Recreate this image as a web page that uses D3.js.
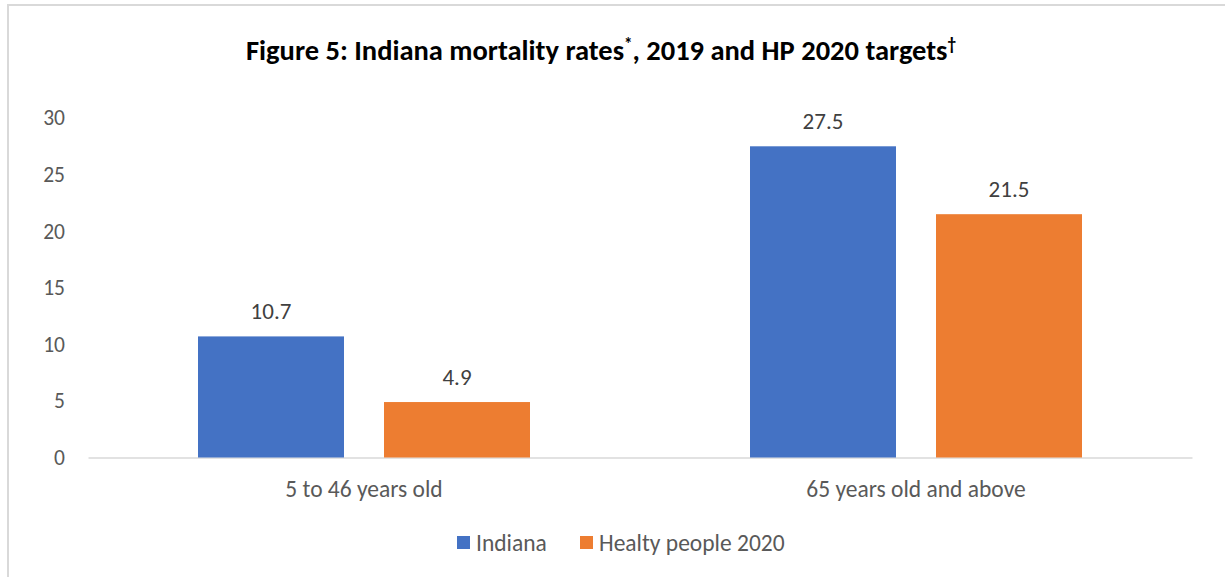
<!DOCTYPE html>
<html>
<head>
<meta charset="utf-8">
<script src="https://cdn.jsdelivr.net/npm/d3@7"></script>
<style>
  html, body { margin: 0; padding: 0; background: #fff; }
  svg { display: block; }
  text { font-family: Carlito, Lato, "Open Sans", sans-serif; }
</style>
</head>
<body>
<svg id="chart" width="1225" height="577"></svg>
<script>
// Mortality rates by age group, Indiana 2019 vs. Healthy People 2020 targets
const categories = ["5 to 46 years old", "65 years old and above"];
const seriesNames = ["Indiana", "Healty people 2020"];
const indianaValues = [10.7, 27.5];
const hp2020Values = [4.9, 21.5];
const yTicks = [0, 5, 10, 15, 20, 25, 30];
const colors = ["#4472C4", "#ED7D31"];

const FONT = 'Carlito, Lato, "Open Sans", sans-serif';
const svg = d3.select("#chart");
const W = 1225, H = 577;
const margin = { left: 88, right: 33, top: 118, bottom: 577 - 457.5 };

// chart frame
svg.append("path")
  .attr("d", `M8,${H} L8,5 L${W},5`)
  .attr("fill", "none").attr("stroke", "#d9d9d9").attr("stroke-width", 2);

// title
const title = svg.append("text")
  .attr("x", 601).attr("y", 60)
  .attr("text-anchor", "middle")
  .attr("font-weight", "bold").attr("font-size", 28.5).attr("fill", "#000");
title.append("tspan").text("Figure 5: Indiana mortality rates");
title.append("tspan").text("*").attr("font-size", 17).attr("dy", -10);
title.append("tspan").text(", 2019 and HP 2020 targets").attr("dy", 10);
title.append("tspan").text("\u2020").attr("font-size", 17).attr("dy", -10);

const x0 = d3.scaleBand().domain(categories)
  .range([margin.left, W - margin.right]).paddingInner(0).paddingOuter(0);
const y = d3.scaleLinear().domain([0, 30]).range([H - margin.bottom, margin.top]);

// inner band for the two series within each category
const groupPad = 110;
const x1 = d3.scaleBand().domain(seriesNames)
  .range([0, x0.bandwidth() - 2 * groupPad]).paddingInner(40 / 332 * 2 / (1 + 40 / 332));

// y axis labels
const yAxis = d3.axisLeft(y).tickValues(yTicks).tickSize(0).tickPadding(0);
const gy = svg.append("g").attr("transform", `translate(65,0)`).call(yAxis);
gy.select(".domain").remove();
gy.selectAll("text").attr("font-size", 21.5).attr("fill", "#595959")
  .attr("font-family", FONT);

// baseline
const xAxis = d3.axisBottom(x0).tickSize(0).tickPadding(23);
const gx = svg.append("g").attr("transform", `translate(0,${y(0)})`).call(xAxis);
gx.select(".domain").attr("stroke", "#d9d9d9").attr("stroke-width", 1.5);
gx.selectAll("text").attr("font-size", 23.5).attr("fill", "#595959")
  .attr("font-family", FONT);

const rows = categories.map((c, i) => ({
  cat: c,
  vals: [indianaValues[i], hp2020Values[i]]
}));

const groups = svg.append("g").selectAll("g").data(rows).join("g")
  .attr("transform", d => `translate(${x0(d.cat) + groupPad},0)`);

groups.selectAll("rect")
  .data(d => d.vals.map((v, j) => ({ name: seriesNames[j], v, j })))
  .join("rect")
  .attr("x", d => x1(d.name))
  .attr("width", x1.bandwidth())
  .attr("y", d => y(d.v))
  .attr("height", d => y(0) - y(d.v))
  .attr("fill", d => colors[d.j]);

groups.selectAll("text.val")
  .data(d => d.vals.map((v, j) => ({ name: seriesNames[j], v, j })))
  .join("text").attr("class", "val")
  .attr("x", d => x1(d.name) + x1.bandwidth() / 2)
  .attr("y", d => y(d.v) - 17)
  .attr("text-anchor", "middle")
  .attr("font-size", 23).attr("fill", "#404040")
  .text(d => d3.format(".1f")(d.v));

// legend
const legend = svg.append("g");
const legendX = [457, 580];
seriesNames.forEach((n, j) => {
  legend.append("rect").attr("x", legendX[j]).attr("y", 536)
    .attr("width", 13).attr("height", 13).attr("fill", colors[j]);
  legend.append("text").attr("x", legendX[j] + 19).attr("y", 550.5)
    .attr("font-size", 23.5).attr("fill", "#595959").text(n);
});
</script>
</body>
</html>
